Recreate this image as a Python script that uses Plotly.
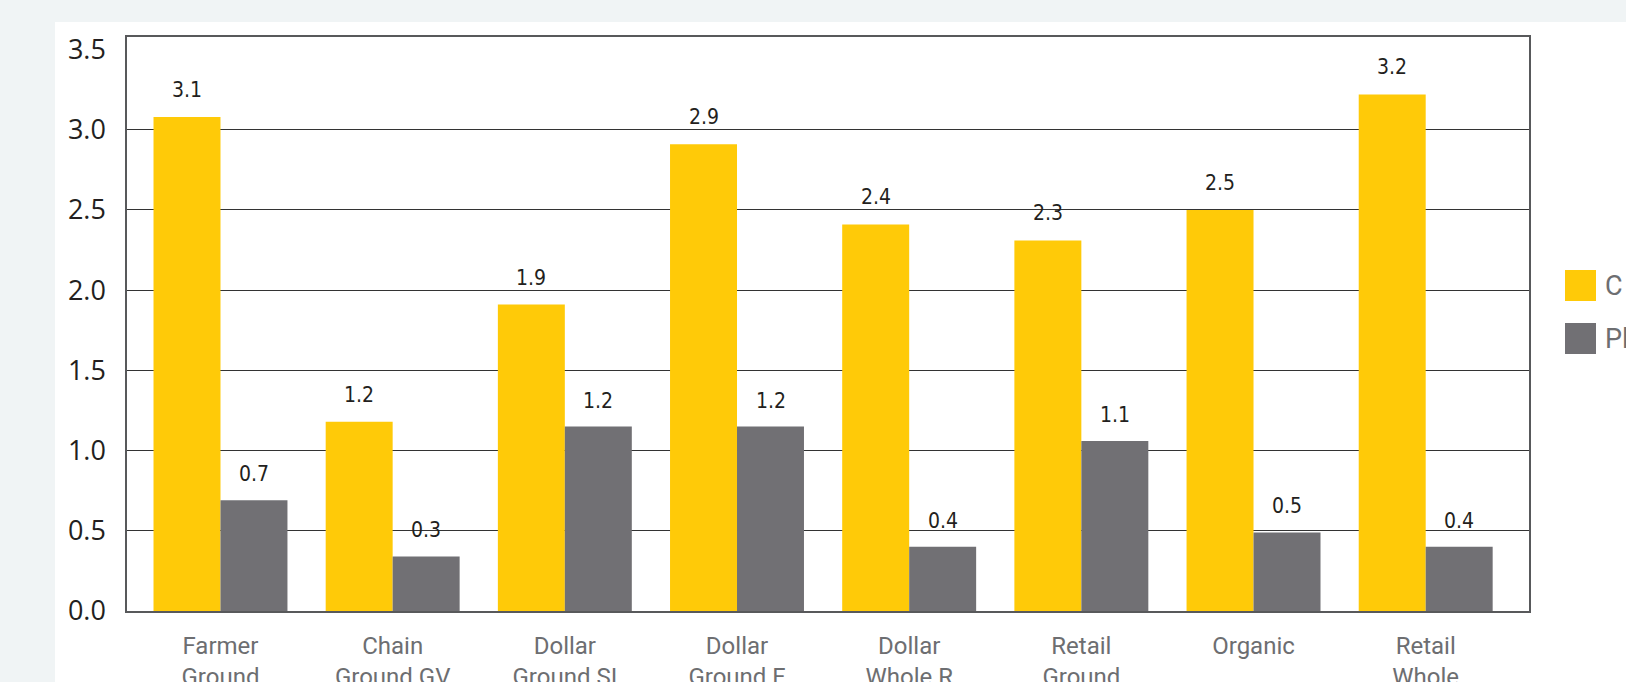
import plotly.graph_objects as go

categories = ["Farmer<br>Ground", "Chain<br>Ground GV", "Dollar<br>Ground SI", "Dollar<br>Ground F",
              "Dollar<br>Whole R", "Retail<br>Ground", "Organic", "Retail<br>Whole"]
series_names = ["C", "Pl"]
values_c = [3.08, 1.18, 1.91, 2.91, 2.41, 2.31, 2.50, 3.22]
values_p = [0.69, 0.34, 1.15, 1.15, 0.40, 1.06, 0.49, 0.40]
labels_c = ["3.1", "1.2", "1.9", "2.9", "2.4", "2.3", "2.5", "3.2"]
labels_p = ["0.7", "0.3", "1.2", "1.2", "0.4", "1.1", "0.5", "0.4"]
y_ticks = [0.0, 0.5, 1.0, 1.5, 2.0, 2.5, 3.0, 3.5]
y_ticktext = ["0.0", "0.5", "1.0", "1.5", "2.0", "2.5", "3.0", "3.5"]
y_grid = [0.5, 1.0, 1.5, 2.0, 2.5, 3.0]

YELLOW = "#FFCA08"
GRAY = "#717074"
W, H = 1626, 682
ML, MR, MT, MB = 127, 97, 37, 71

xs = list(range(len(categories)))

fig = go.Figure()
fig.add_trace(go.Bar(x=xs, y=values_c, name=series_names[0], marker_color=YELLOW,
                     marker_line_width=0, showlegend=False))
fig.add_trace(go.Bar(x=xs, y=values_p, name=series_names[1], marker_color=GRAY,
                     marker_line_width=0, showlegend=False))

label_font = dict(family="Liberation Sans Narrow, DejaVu Sans Condensed, Roboto, sans-serif",
                  size=21, color="#231f20")
annotations = []
for i, (v, t) in enumerate(zip(values_c, labels_c)):
    annotations.append(dict(x=xs[i], y=v, xref="x", yref="y", text=t, showarrow=False,
                            xshift=-33.5, yshift=27, yanchor="middle", font=label_font))
for i, (v, t) in enumerate(zip(values_p, labels_p)):
    annotations.append(dict(x=xs[i], y=v, xref="x", yref="y", text=t, showarrow=False,
                            xshift=33.5, yshift=26, yanchor="middle", font=label_font))

pw = W - ML - MR
ph = H - MT - MB
def px_x(p):
    return (p - ML) / pw
def px_y(p):
    return 1 - (p - MT) / ph

shapes = [
    dict(type="rect", xref="paper", yref="paper", x0=px_x(55), x1=px_x(W + 5),
         y0=px_y(H + 5), y1=px_y(22), fillcolor="white", line_width=0, layer="below"),
]
legend_font = dict(family="Roboto, Open Sans, sans-serif", size=27, color="#6d6e71")
for k, (name, col, top) in enumerate([(series_names[0], YELLOW, 270), (series_names[1], GRAY, 323)]):
    shapes.append(dict(type="rect", xref="paper", yref="paper", x0=px_x(1565), x1=px_x(1596),
                       y0=px_y(top + 31), y1=px_y(top), fillcolor=col, line_width=0))
    annotations.append(dict(x=px_x(1603), y=px_y(top + 15.5), xref="paper", yref="paper",
                            text=name, showarrow=False, xanchor="left", yanchor="middle",
                            font=legend_font))

fig.update_layout(
    width=W, height=H,
    margin=dict(l=ML, r=MR, t=MT, b=MB, pad=0, autoexpand=False),
    paper_bgcolor="#F0F4F5",
    plot_bgcolor="white",
    barmode="group",
    bargap=0.222,
    bargroupgap=0,
    shapes=shapes,
    annotations=annotations,
    showlegend=False,
    xaxis=dict(
        range=[-0.543, 7.6], automargin=False,
        tickmode="array", tickvals=xs, ticktext=categories,
        showgrid=False, zeroline=False,
        showline=True, linecolor="#58595b", linewidth=1.5, mirror=True,
        ticks="", ticklabelstandoff=12,
        tickfont=dict(family="Roboto, Open Sans, sans-serif", size=24, color="#6d6e71"),
    ),
    yaxis=dict(
        range=[0, 3.578], automargin=False,
        tickmode="array", tickvals=y_ticks, ticktext=y_ticktext,
        showgrid=False,
        minor=dict(tickmode="array", tickvals=y_grid, showgrid=True,
                   gridcolor="#333333", gridwidth=1.2, ticks=""),
        zeroline=False,
        showline=True, linecolor="#58595b", linewidth=1.5, mirror=True,
        ticks="", ticklabelstandoff=14,
        tickfont=dict(family="Open Sans, Roboto, sans-serif", size=27, color="#231f20"),
    ),
)

fig.write_html("out.html", config={"displayModeBar": False},
               post_script="document.body.style.margin='0';document.body.style.overflow='hidden';")
